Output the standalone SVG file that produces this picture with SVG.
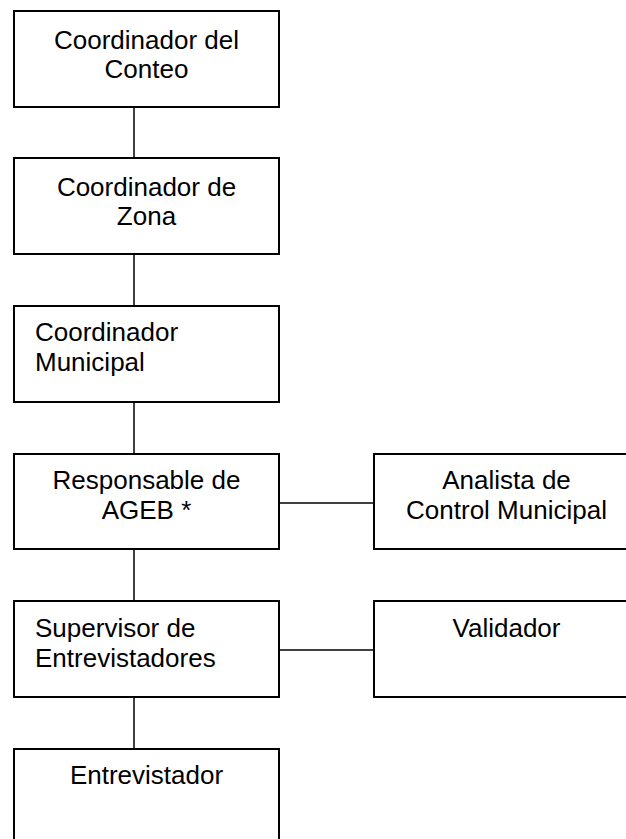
<svg xmlns="http://www.w3.org/2000/svg" width="626" height="839" viewBox="0 0 626 839">
<style>
.box{fill:#fff;stroke:#000;stroke-width:2}
.con{stroke:#000;stroke-width:1.5;fill:none}
text{font-family:"Liberation Sans",Arial,sans-serif;font-size:26px;fill:#000}
.c{text-anchor:middle}
</style>
<rect width="626" height="839" fill="#fff"/>
<g id="connectors">
<line class="con" x1="134" y1="107" x2="134" y2="158"/>
<line class="con" x1="134" y1="254" x2="134" y2="306"/>
<line class="con" x1="134" y1="402" x2="134" y2="454"/>
<line class="con" x1="134" y1="549" x2="134" y2="601"/>
<line class="con" x1="134" y1="697" x2="134" y2="749"/>
<line class="con" x1="279" y1="503" x2="374" y2="503"/>
<line class="con" x1="279" y1="650" x2="374" y2="650"/>
</g>
<g id="coordinador-conteo">
<rect class="box" x="14" y="11" width="265" height="96"/>
<text class="c" x="146.5" y="49">Coordinador del</text>
<text class="c" x="146.5" y="78">Conteo</text>
</g>
<g id="coordinador-zona">
<rect class="box" x="14" y="158" width="265" height="96"/>
<text class="c" x="146.5" y="196">Coordinador de</text>
<text class="c" x="146.5" y="225">Zona</text>
</g>
<g id="coordinador-municipal">
<rect class="box" x="14" y="306" width="265" height="96"/>
<text x="35" y="341">Coordinador</text>
<text x="35" y="371">Municipal</text>
</g>
<g id="responsable-ageb">
<rect class="box" x="14" y="454" width="265" height="95"/>
<text class="c" x="146.5" y="489">Responsable de</text>
<text class="c" x="146.5" y="519">AGEB *</text>
</g>
<g id="analista">
<rect class="box" x="374" y="454" width="265" height="95"/>
<text class="c" x="506.5" y="489">Analista de</text>
<text class="c" x="506.5" y="519">Control Municipal</text>
</g>
<g id="supervisor">
<rect class="box" x="14" y="601" width="265" height="96"/>
<text x="35" y="637">Supervisor de</text>
<text x="35" y="667">Entrevistadores</text>
</g>
<g id="validador">
<rect class="box" x="374" y="601" width="265" height="96"/>
<text class="c" x="506.5" y="637">Validador</text>
</g>
<g id="entrevistador">
<rect class="box" x="14" y="749" width="265" height="120"/>
<text class="c" x="146.5" y="784">Entrevistador</text>
</g>
</svg>
